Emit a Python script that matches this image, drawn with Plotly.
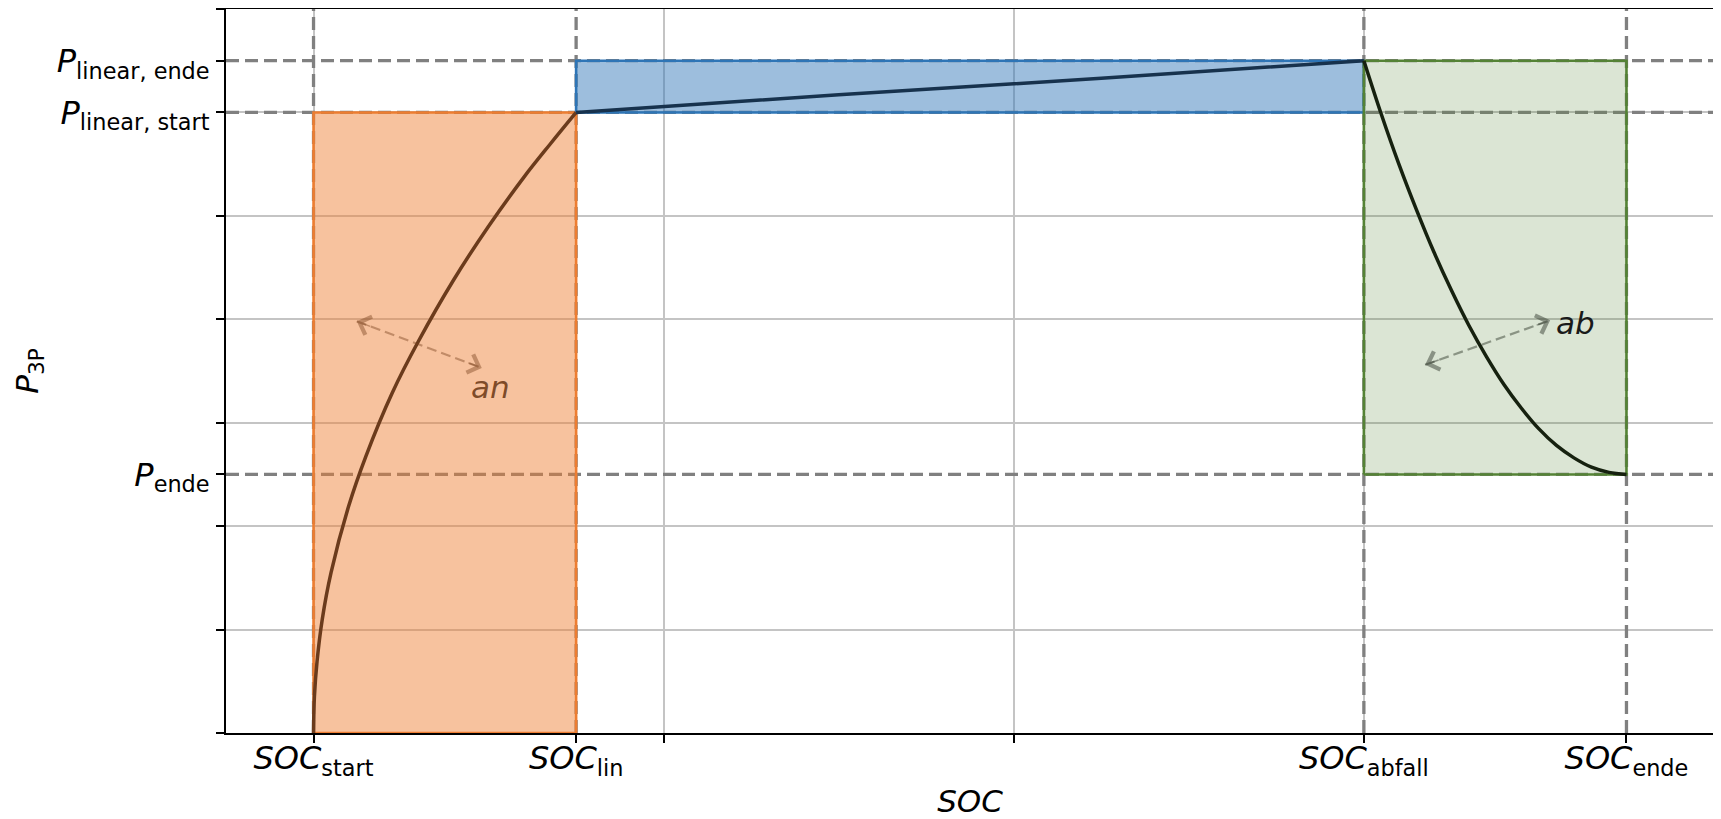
import plotly.graph_objects as go

# ---------------- data ----------------
x_range = [-0.05, 0.8]
y_range = [0.0, 7.0]

soc_tick_vals = [0.0, 0.15, 0.6, 0.75]
soc_tick_text = ["<i>SOC</i><sub>start</sub>", "<i>SOC</i><sub>lin</sub>",
                 "<i>SOC</i><sub>abfall</sub>", "<i>SOC</i><sub>ende</sub>"]
p_tick_vals = [2.5, 6.0, 6.5]
p_tick_text = ["<i>P</i><sub>ende</sub>", "<i>P</i><sub>linear, start</sub>",
               "<i>P</i><sub>linear, ende</sub>"]
x_grid_vals = [0.0, 0.2, 0.4, 0.6, 0.8]
y_grid_vals = [0, 1, 2, 3, 4, 5, 6, 7]

# reference (dashed) levels
soc_levels = [0.0, 0.15, 0.6, 0.75]
p_levels = [6.5, 6.0, 2.5]

# phase boxes: x0, x1, y0, y1
box_an = [0.0, 0.15, 0.0, 6.0]
box_lin = [0.15, 0.6, 6.0, 6.5]
box_ab = [0.6, 0.75, 2.5, 6.5]

# curves
an_x = [0.0, 0.0005, 0.002, 0.005, 0.01, 0.02, 0.03, 0.045, 0.06, 0.08, 0.1, 0.12, 0.135, 0.15]
an_y = [0.0, 0.35, 0.69, 1.10, 1.55, 2.19, 2.68, 3.29, 3.79, 4.38, 4.90, 5.37, 5.69, 6.0]
lin_x = [0.15, 0.3, 0.45, 0.6]
lin_y = [6.0, 6.17, 6.33, 6.5]
ab_x = [0.6, 0.61, 0.62, 0.63, 0.64, 0.65, 0.66, 0.67, 0.68, 0.69, 0.70, 0.71, 0.72, 0.73, 0.74, 0.75]
ab_y = [6.5, 5.98, 5.50, 5.06, 4.65, 4.28, 3.94, 3.64, 3.37, 3.14, 2.94, 2.78, 2.66, 2.57, 2.52, 2.5]

# double arrows and labels
an_arrow_x = [0.0247, 0.0961]
an_arrow_y = [3.98, 3.53]
ab_arrow_x = [0.635, 0.7064]
ab_arrow_y = [3.56, 3.99]
an_label = ["an", 0.101, 3.35]
ab_label = ["ab", 0.7207, 3.965]

# ---------------- styles ----------------
FONT = "DejaVu Sans"
DASH_COL = "#808080"
orange_edge, orange_fill = "#ED7D31", "rgba(237,125,49,0.47)"
blue_edge, blue_fill = "#2E75B6", "rgba(46,117,182,0.47)"
green_edge, green_fill = "#548235", "rgba(84,130,53,0.21)"
brown_line = "#6b3b1c"
navy_line = "#17324d"
dkgreen_line = "#16210f"

fig = go.Figure()

# dashed reference lines
for xv in soc_levels:
    fig.add_trace(go.Scatter(x=[xv, xv], y=y_range, mode="lines",
                             line=dict(color=DASH_COL, width=3.3, dash="13px,6px"),
                             hoverinfo="skip", showlegend=False))
for yv in p_levels:
    fig.add_trace(go.Scatter(x=x_range, y=[yv, yv], mode="lines",
                             line=dict(color=DASH_COL, width=3.3, dash="13px,6px"),
                             hoverinfo="skip", showlegend=False))

# boxes
for b, fc, ec in [(box_an, orange_fill, orange_edge), (box_lin, blue_fill, blue_edge),
                  (box_ab, green_fill, green_edge)]:
    x0, x1, y0, y1 = b
    fig.add_trace(go.Scatter(x=[x0, x1, x1, x0, x0], y=[y0, y0, y1, y1, y0],
                             mode="lines", fill="toself", fillcolor=fc,
                             line=dict(color=ec, width=2.6),
                             hoverinfo="skip", showlegend=False))

# curves
for xs, ys, c in [(an_x, an_y, brown_line), (lin_x, lin_y, navy_line), (ab_x, ab_y, dkgreen_line)]:
    fig.add_trace(go.Scatter(x=xs, y=ys, mode="lines", line=dict(color=c, width=3.5, shape="spline"),
                             hoverinfo="skip", showlegend=False))

# arrows (dashed shaft + heads)
arrow_specs = [(an_arrow_x, an_arrow_y, "rgba(120,64,28,0.42)"),
               (ab_arrow_x, ab_arrow_y, "rgba(40,48,36,0.45)")]
for ax_, ay_, col in arrow_specs:
    fig.add_trace(go.Scatter(x=ax_, y=ay_, mode="lines",
                             line=dict(color=col, width=2.2, dash="10px,5px"),
                             hoverinfo="skip", showlegend=False))
    for i, j in [(0, 1), (1, 0)]:
        fig.add_annotation(x=ax_[i], y=ay_[i],
                           ax=ax_[i] + 0.12 * (ax_[j] - ax_[i]),
                           ay=ay_[i] + 0.12 * (ay_[j] - ay_[i]),
                           axref="x", ayref="y", xref="x", yref="y",
                           showarrow=True, arrowhead=4, arrowsize=2.5, arrowwidth=1.5,
                           arrowcolor=col, standoff=0, text="")

fig.add_annotation(x=an_label[1], y=an_label[2], text="<i>" + an_label[0] + "</i>",
                   showarrow=False, xanchor="center", yanchor="middle",
                   font=dict(family=FONT, size=31, color="rgba(110,58,24,0.88)"))
fig.add_annotation(x=ab_label[1], y=ab_label[2], text="<i>" + ab_label[0] + "</i>",
                   showarrow=False, xanchor="center", yanchor="middle",
                   font=dict(family=FONT, size=31, color="#1a1a1a"))

axis_common = dict(showline=True, linecolor="black", linewidth=2, mirror=True,
                   ticks="outside", ticklen=8, tickwidth=2, tickcolor="black",
                   showgrid=False, zeroline=False, automargin=False,
                   tickfont=dict(family=FONT, size=32, color="black"))

fig.update_xaxes(range=x_range, tickmode="array", tickvals=soc_tick_vals, ticktext=soc_tick_text,
                 ticklabelstandoff=-12,
                 minor=dict(tickmode="array", tickvals=x_grid_vals, showgrid=True,
                            gridcolor="#c4c4c4", gridwidth=1.5, ticks="outside",
                            ticklen=8, tickwidth=2, tickcolor="black"),
                 title=dict(text="<i>SOC</i>", font=dict(family=FONT, size=31, color="black"),
                            standoff=12),
                 **axis_common)
fig.update_yaxes(range=y_range, tickmode="array", tickvals=p_tick_vals, ticktext=p_tick_text,
                 minor=dict(tickmode="array", tickvals=y_grid_vals, showgrid=True,
                            gridcolor="#c4c4c4", gridwidth=1.5, ticks="outside",
                            ticklen=8, tickwidth=2, tickcolor="black"),
                 title=dict(text="<i>P</i><sub>3P</sub>", font=dict(family=FONT, size=31, color="black"),
                            standoff=9),
                 **axis_common)

# page body has an 8px margin: figure sized/offset to keep the axes where the reference has them
fig.update_layout(width=1713, height=811, autosize=False,
                  margin=dict(l=218, r=7, t=1, b=86),
                  plot_bgcolor="white", paper_bgcolor="white",
                  showlegend=False, font=dict(family=FONT))

fig.write_html("out.html")
